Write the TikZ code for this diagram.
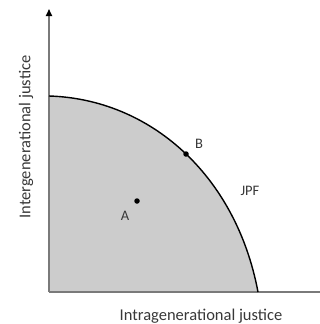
\documentclass[tikz,border=0pt]{standalone}
\usepackage{fontspec}
\setmainfont{Carlito}
\usetikzlibrary{arrows.meta}
\definecolor{axisgray}{HTML}{7A7A7A}
\definecolor{regiongray}{HTML}{CCCCCC}
\definecolor{textgray}{HTML}{383838}
\tikzset{
  axisline/.style={draw=axisgray, line width=1.6pt},
  frontier/.style={draw=black, line width=1.4pt},
  dotpt/.style={circle, fill=black, inner sep=0pt, minimum size=5.5pt},
  lbl/.style={text=textgray, font=\fontsize{14.5}{17}\selectfont, inner sep=0pt},
  axislbl/.style={text=textgray, font=\fontsize{16.5}{19}\selectfont, inner sep=0pt}
}
\begin{document}
\begin{tikzpicture}[x=1pt,y=-1pt]
\useasboundingbox (0,0) rectangle (320,324);
\coordinate (O) at (49,292);
\coordinate (Ytop) at (49,9);
\coordinate (Xend) at (320,292);
\coordinate (S) at (49,96);
\coordinate (E) at (258,292);
% region
\fill[regiongray] (O) -- (S) .. controls (150,99) and (236,175) .. (E) -- cycle;
% axes
\draw[axisline, -{Triangle[length=7pt,width=6pt,color=black]}] (O) -- (Ytop);
\draw[axisline] (O) -- (Xend);
% frontier
\draw[frontier] (S) .. controls (150,99) and (236,175) .. (E);
% points
\node[dotpt] (A) at (137,201) {};
\node[dotpt] (B) at (186,154) {};
\node[lbl] (Alab) at (125,216) {A};
\node[lbl] (Blab) at (199,144) {B};
\node[lbl] (JPF) at (250,191) {JPF};
% axis labels
\node[axislbl] (xl) at (201,316) {Intragenerational justice};
\node[axislbl, rotate=90] (yl) at (26,137) {Intergenerational justice};
\end{tikzpicture}
\end{document}
